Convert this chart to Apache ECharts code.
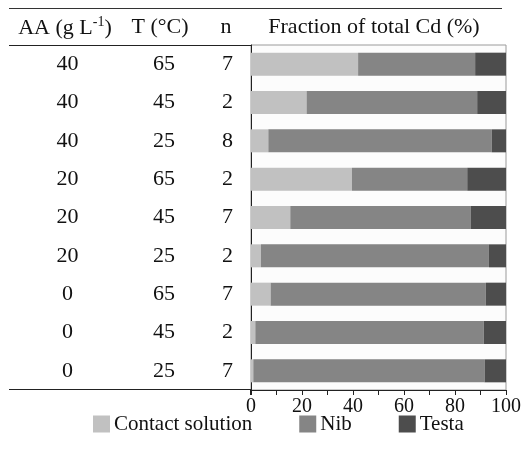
<!DOCTYPE html>
<html>
<head>
<meta charset="utf-8">
<style>
  html, body { margin: 0; padding: 0; background: #ffffff; }
  #chart { width: 527px; height: 455px; }
</style>
<script src="https://cdn.jsdelivr.net/npm/echarts@6/dist/echarts.min.js"></script>
</head>
<body>
<div id="chart"></div>
<script>
// Treatment table columns (one entry per bar, top to bottom)
const aaConc = ['40', '40', '40', '20', '20', '20', '0', '0', '0'];
const temperature = ['65', '45', '25', '65', '45', '25', '65', '45', '25'];
const nReps = ['7', '2', '8', '2', '7', '2', '7', '2', '7'];

// Fraction of total Cd (%) in each compartment
const contactSolution = [42.0, 21.8, 6.8, 39.6, 15.4, 3.9, 7.7, 1.7, 0.9];
const nib = [45.9, 66.9, 87.6, 45.2, 70.7, 89.4, 84.4, 89.6, 90.7];
const testa = [12.1, 11.3, 5.6, 15.2, 13.9, 6.7, 7.9, 8.7, 8.4];

const xTicks = [0, 20, 40, 60, 80, 100];

const FONT = '"Liberation Serif", "Times New Roman", serif';
const FS = 22;
const GRID_LEFT = 251, GRID_RIGHT = 506, GRID_TOP = 45, GRID_BOTTOM = 390;

const chart = echarts.init(document.getElementById('chart'), null, { renderer: 'canvas' });

function tableAxis(data, dist, showLine) {
  return {
    type: 'category',
    data: data,
    inverse: true,
    position: 'left',
    offset: 0,
    axisLine: { show: showLine, lineStyle: { color: '#222', width: 1 } },
    axisTick: { show: false },
    splitLine: { show: false },
    axisLabel: {
      show: true,
      align: 'center',
      margin: dist,
      fontFamily: FONT,
      fontSize: FS,
      color: '#111'
    }
  };
}

function headerText(x, text) {
  return {
    type: 'text', x: x, y: 27, silent: true,
    style: { text: text, font: FS + 'px ' + FONT, fill: '#111', align: 'center', verticalAlign: 'middle' }
  };
}

const option = {
  backgroundColor: '#ffffff',
  animation: false,
  textStyle: { fontFamily: FONT },
  grid: {
    left: GRID_LEFT,
    right: 527 - GRID_RIGHT,
    top: GRID_TOP,
    bottom: 455 - GRID_BOTTOM,
    show: true,
    backgroundColor: '#fcfcfc',
    borderColor: '#9a9a9a',
    borderWidth: 1
  },
  legend: {
    left: 93,
    top: 413,
    padding: 0,
    itemWidth: 17,
    itemHeight: 17,
    itemGap: 47,
    icon: 'rect',
    textStyle: { fontFamily: FONT, fontSize: 21, color: '#111', padding: [0, 0, 0, -1], lineHeight: 22 },
    data: ['Contact solution', 'Nib', 'Testa']
  },
  xAxis: {
    type: 'value',
    min: 0,
    max: 100,
    interval: 20,
    axisLine: { show: true, lineStyle: { color: '#222', width: 1 } },
    axisTick: { show: true, inside: false, length: 5, lineStyle: { color: '#222' } },
    minorTick: { show: true, splitNumber: 2, length: 5, lineStyle: { color: '#222' } },
    splitLine: { show: false },
    axisLabel: {
      margin: 7,
      fontFamily: FONT,
      fontSize: 20,
      color: '#111',
      formatter: function (v) { return xTicks.indexOf(v) >= 0 ? String(v) : ''; }
    }
  },
  yAxis: [
    tableAxis(nReps, 23.5, true),
    tableAxis(temperature, 87, false),
    tableAxis(aaConc, 183.5, false)
  ],
  series: [
    {
      name: 'Contact solution',
      type: 'bar',
      stack: 'cd',
      barWidth: 23,
      yAxisIndex: 0,
      itemStyle: { color: '#c1c1c1' },
      data: contactSolution
    },
    {
      name: 'Nib',
      type: 'bar',
      stack: 'cd',
      barWidth: 23,
      yAxisIndex: 0,
      itemStyle: { color: '#858585' },
      data: nib
    },
    {
      name: 'Testa',
      type: 'bar',
      stack: 'cd',
      barWidth: 23,
      yAxisIndex: 0,
      itemStyle: { color: '#4d4d4d' },
      data: testa
    }
  ],
  graphic: [
    // table rules
    { type: 'line', silent: true, shape: { x1: 9, y1: 8.5, x2: 502, y2: 8.5 }, style: { stroke: '#333', lineWidth: 1 } },
    { type: 'line', silent: true, shape: { x1: 9, y1: 45.5, x2: GRID_LEFT, y2: 45.5 }, style: { stroke: '#222', lineWidth: 1 } },
    { type: 'line', silent: true, shape: { x1: 9, y1: 389.5, x2: GRID_LEFT, y2: 389.5 }, style: { stroke: '#222', lineWidth: 1 } },
    { type: 'line', silent: true, shape: { x1: 250.5, y1: 389.5, x2: 250.5, y2: 395 }, style: { stroke: '#222', lineWidth: 1 } },
    // header row
    {
      type: 'text', x: 65, y: 27, silent: true,
      style: {
        text: '{a|AA (g L}{s|-1}{a|)}',
        align: 'center',
        verticalAlign: 'middle',
        rich: {
          a: { fontFamily: FONT, fontSize: FS, fill: '#111', lineHeight: 24, verticalAlign: 'bottom' },
          s: { fontFamily: FONT, fontSize: 14, fill: '#111', lineHeight: 16, verticalAlign: 'top' }
        }
      }
    },
    headerText(160, 'T (°C)'),
    headerText(226, 'n'),
    headerText(374, 'Fraction of total Cd (%)')
  ]
};

chart.setOption(option);
</script>
</body>
</html>
